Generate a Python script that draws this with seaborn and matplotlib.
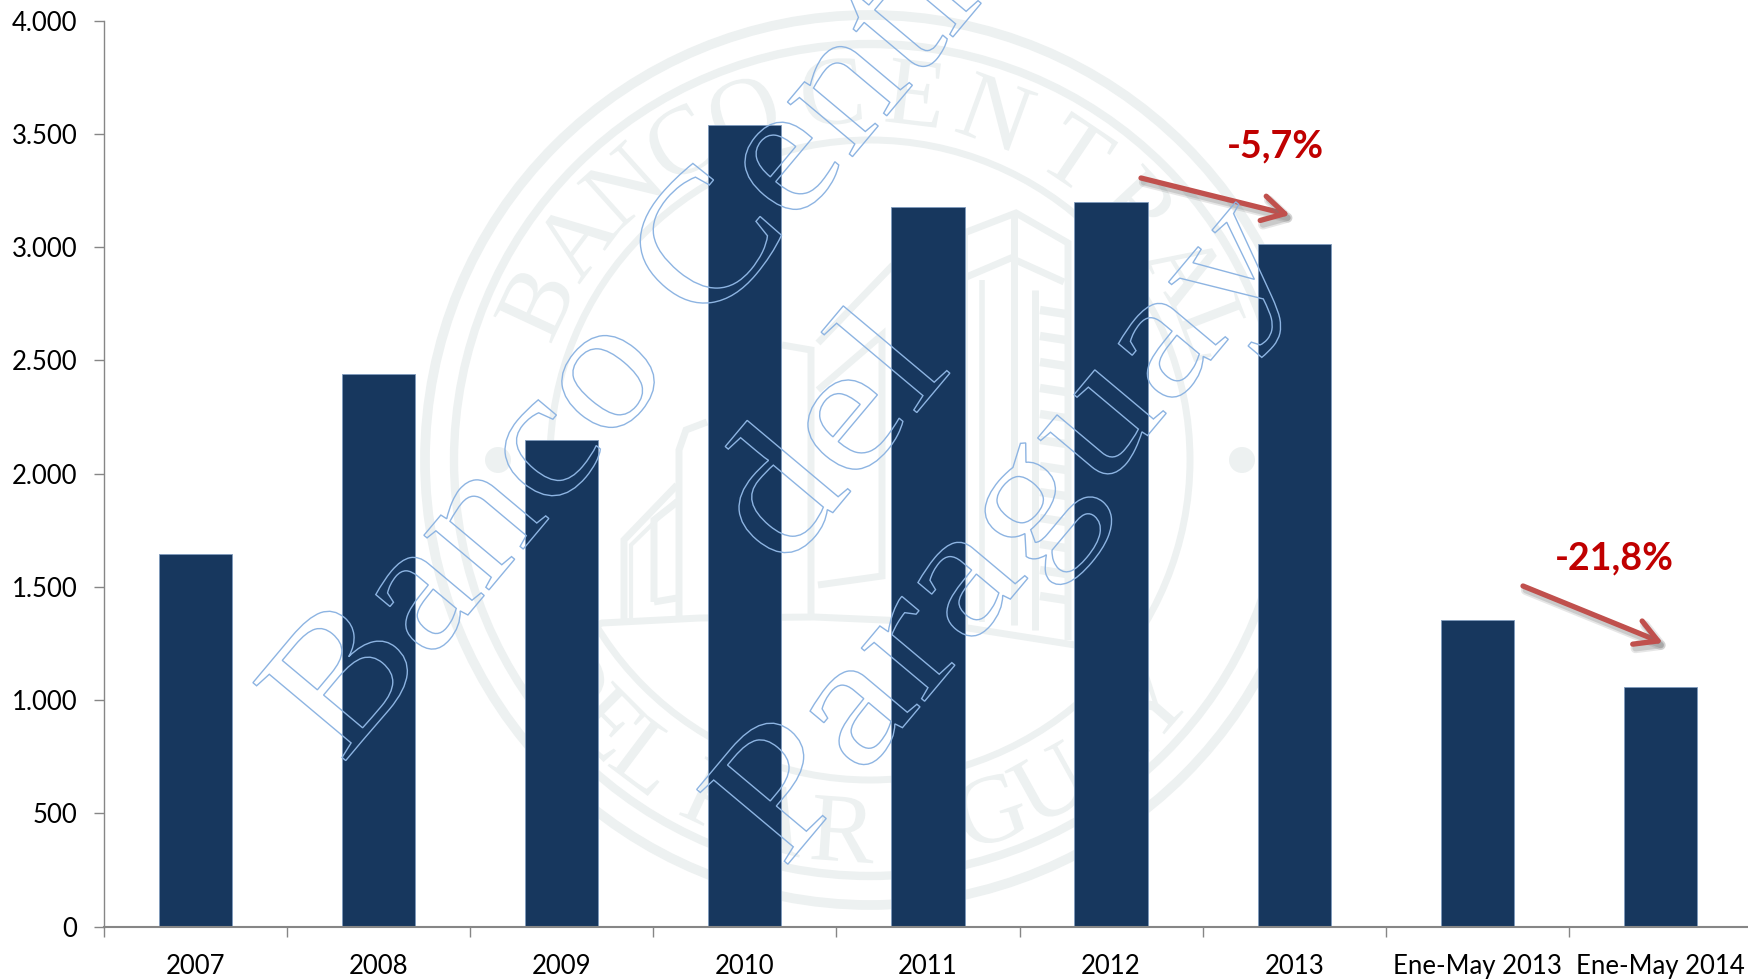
import matplotlib
matplotlib.use("Agg")
import matplotlib.pyplot as plt
import matplotlib.patheffects as pe
import numpy as np
import pandas as pd
import seaborn as sns
from matplotlib.font_manager import FontProperties
from matplotlib.lines import Line2D
from matplotlib.patches import Circle, PathPatch
from matplotlib.textpath import TextPath
from matplotlib.transforms import Affine2D

categories = ["2007", "2008", "2009", "2010", "2011", "2012", "2013", "Ene-May 2013", "Ene-May 2014"]
values = [1645, 2441, 2147, 3540, 3177, 3198, 3015, 1355, 1060]
y_ticks = [0, 500, 1000, 1500, 2000, 2500, 3000, 3500, 4000]
y_labels = ["0", "500", "1.000", "1.500", "2.000", "2.500", "3.000", "3.500", "4.000"]

W, H = 1748, 980
SEAL = "#edf1f1"
OUTLINE = "#8db4e2"
NAVY = "#17375e"
GREY = "#868686"

sns.set_theme(style="white")
plt.rcParams["font.family"] = ["Lato", "DejaVu Sans"]

fig = plt.figure(figsize=(W / 100, H / 100), dpi=100, facecolor="white")
ax = fig.add_axes([104 / W, (H - 926.7) / H, 9 * 183.1 / W, 906 / H])
ax.patch.set_alpha(0)

df = pd.DataFrame({"periodo": categories, "valor": values})
sns.barplot(data=df, x="periodo", y="valor", color=NAVY, saturation=1, width=0.4,
            edgecolor="#7f9bbd", linewidth=0.6, ax=ax)

ax.set_xlim(-0.5, 8.5)
ax.set_ylim(0, 4000)
ax.set_xlabel("")
ax.set_ylabel("")
ax.set_yticks(y_ticks)
ax.set_yticklabels(y_labels, fontsize=18.5, color="black")
ax.set_xticks(np.arange(-0.5, 9))
ax.set_xticklabels([])
ax.set_xticks(np.arange(9), labels=categories, minor=True)
ax.tick_params(axis="x", which="major", bottom=True, length=7, width=1, color=GREY)
ax.tick_params(axis="x", which="minor", bottom=False, length=0, pad=20, labelsize=18.5, labelcolor="black")
ax.tick_params(axis="y", left=True, length=7, width=1, color=GREY, pad=12)
sns.despine(ax=ax)
ax.spines["left"].set_color(GREY)
ax.spines["left"].set_linewidth(1)
ax.spines["bottom"].set_color(GREY)
ax.spines["bottom"].set_linewidth(1.5)


# sello de fondo, en pixeles de la imagen (y hacia arriba)
up = Affine2D().scale(1 / W, 1 / H) + fig.transFigure
CX, CY = 870, H - 460


def seal_line(points, lw=3.6):
    xs = [p[0] for p in points]
    ys = [H - p[1] for p in points]
    fig.add_artist(Line2D(xs, ys, transform=up, color=SEAL, lw=lw, zorder=-2,
                          solid_capstyle="butt", solid_joinstyle="miter"))


def ring_text(word, angles, bottom=False):
    fp = FontProperties(family="Liberation Serif")
    for ch, a in zip(word, angles):
        tp = TextPath((0, 0), ch, size=98, prop=fp)
        box = tp.get_extents()
        rot = a + 90 if bottom else a - 90
        x = CX + 370 * np.cos(np.radians(a))
        y = CY + 370 * np.sin(np.radians(a))
        tr = Affine2D().translate(-box.width / 2 - box.x0, -box.height / 2 - box.y0).rotate_deg(rot).translate(x, y)
        fig.add_artist(PathPatch(tp, transform=tr + up, fc=SEAL, ec="none", zorder=-2))


for r, lw in [(445, 7), (416, 6), (320, 5)]:
    fig.add_artist(Circle((CX, CY), r, transform=up, fc="none", ec=SEAL, lw=lw, zorder=-2))
for side in (-1, 1):
    fig.add_artist(Circle((CX + side * 372, CY), 13, transform=up, fc=SEAL, ec="none", zorder=-2))

ring_text("BANCOCENTRAL", [155, 143, 132, 121, 110, 96, 83, 70, 56, 43, 31, 21])
ring_text("DELPARAGUAY", [216, 225, 233, 245, 255, 266, 278, 289, 299, 309, 319], bottom=True)

seal_line([(560, 640), (602, 623), (700, 618), (814, 617), (930, 622), (1075, 645)], lw=5)
# edificio central
seal_line([(964, 233), (1016, 213), (1068, 243), (1068, 640)], lw=5)
seal_line([(964, 278), (1011, 258), (1064, 282)], lw=5)
seal_line([(1014, 213), (1014, 625)], lw=5)
seal_line([(964, 233), (964, 625)], lw=5)
seal_line([(982, 280), (982, 622)], lw=4)
seal_line([(1035, 290), (1035, 630)], lw=5)
for yy in range(310, 620, 26):
    seal_line([(1040, yy), (1066, yy + 4)], lw=6)
# ala izquierda
seal_line([(624, 622), (624, 540), (677, 485)], lw=5)
seal_line([(631, 622), (631, 545), (677, 500)], lw=3)
seal_line([(654, 602), (654, 520), (677, 502)], lw=5)
seal_line([(654, 602), (677, 598)], lw=5)
seal_line([(679, 620), (679, 450), (686, 430), (707, 422)], lw=5)
# ala del medio
seal_line([(811, 620), (811, 350), (782, 345)], lw=5)
seal_line([(818, 343), (893, 265)], lw=5)
seal_line([(818, 585), (882, 576), (882, 335), (818, 390)], lw=5)


def outline_text(text, x, y, angle=50, size=180, stretch=1.2):
    fp = FontProperties(family="Liberation Serif")
    tp = TextPath((0, 0), text, size=size, prop=fp)
    tr = Affine2D().scale(stretch, 1).rotate_deg(angle).translate(x, H - y)
    fig.add_artist(PathPatch(tp, transform=tr + up, fc="none", ec=OUTLINE, lw=1.0, zorder=5))


outline_text("Banco Central", 342, 765, size=185, stretch=1.09)
outline_text("del", 783, 572)
outline_text("Paraguay", 783, 870)


def arrow(x0, y0, x1, y1):
    shadow = [pe.SimpleLineShadow(offset=(2, -3), shadow_color="#777777", alpha=0.18, linewidth=7),
              pe.SimpleLineShadow(offset=(2, -3), shadow_color="#777777", alpha=0.25, linewidth=4.5),
              pe.Normal()]
    ann = ax.annotate("", xy=(x1, H - y1), xytext=(x0, H - y0),
                      xycoords="figure pixels", textcoords="figure pixels",
                      arrowprops=dict(arrowstyle="->,head_length=0.8,head_width=0.45", color="#c0504d",
                                      lw=3.8, shrinkA=0, shrinkB=0, mutation_scale=20, path_effects=shadow))
    ann.set_zorder(6)


arrow(1141, 178, 1290, 215)
arrow(1523, 586, 1663, 643)

fig.text(1275 / W, 1 - 146 / H, "-5,7%", color="#c00000", fontsize=27, fontweight="bold",
         ha="center", va="center", zorder=6)
fig.text(1614 / W, 1 - 558 / H, "-21,8%", color="#c00000", fontsize=27, fontweight="bold",
         ha="center", va="center", zorder=6)

fig.savefig("out.png", dpi=100)
plt.close(fig)
